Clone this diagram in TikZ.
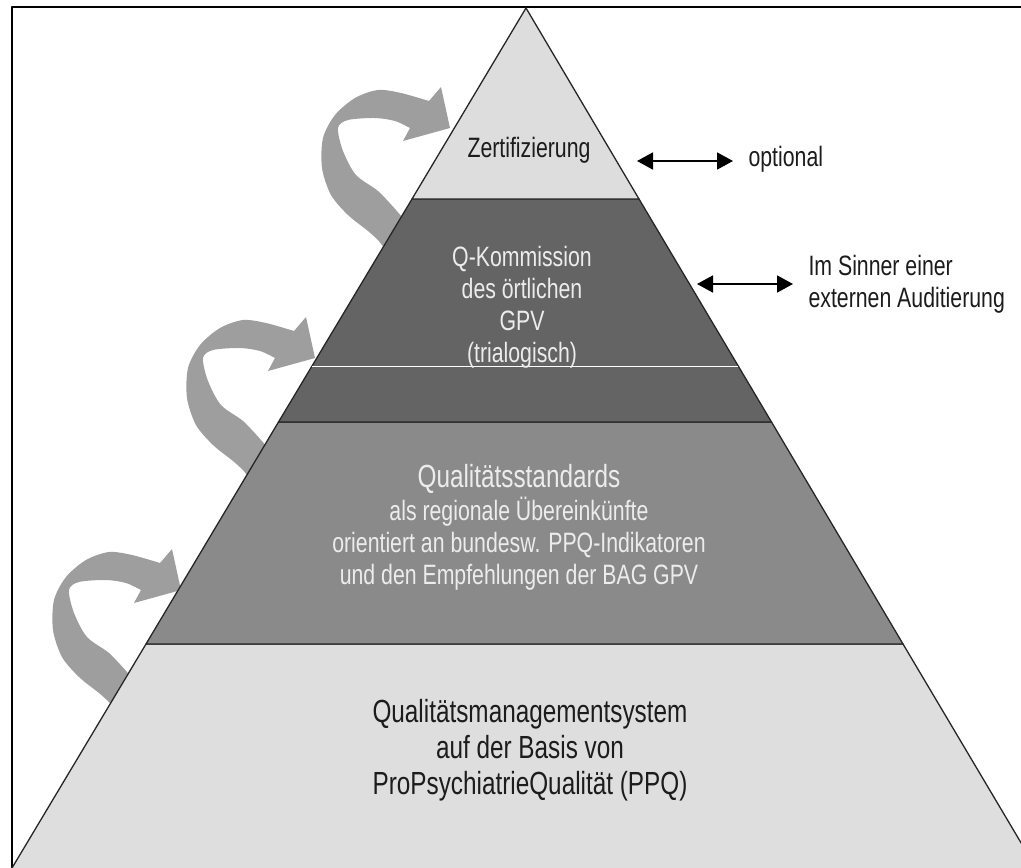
\documentclass[tikz,border=0pt]{standalone}
\usepackage{fontspec}
\setmainfont{Liberation Sans}[FakeStretch=0.76]
\usetikzlibrary{arrows.meta}

\definecolor{tipfill}{RGB}{221,221,221}
\definecolor{commfill}{RGB}{100,100,100}
\definecolor{stdfill}{RGB}{138,138,138}
\definecolor{basefill}{RGB}{222,222,222}
\definecolor{turngray}{RGB}{158,158,158}
\definecolor{lighttext}{RGB}{236,236,236}
\definecolor{darktext}{RGB}{28,28,28}

\tikzset{
  layer/.style={line width=1.3pt, draw=black!85},
  darklabel/.style={text=darktext, align=center, font=\fontsize{28}{32}\selectfont},
  lightlabel/.style={text=lighttext, align=center, font=\fontsize{28}{32}\selectfont},
  sidelabel/.style={text=darktext, anchor=west, align=left, font=\fontsize{28}{32}\selectfont},
  dblarrow/.style={line width=1.8pt, {Triangle[length=16pt,width=17pt]}-{Triangle[length=16pt,width=17pt]}}
}

% curved grey arrow, tip at #1
\newcommand{\turnarrow}[1]{%
  \fill[turngray, shift={#1}] (0,0) -- (-9,-41)
    -- plot[smooth] coordinates {(-21,-27) (-49,-35) (-72,-38) (-95,-30) (-115,-13) (-127,10) (-128,40) (-119,67) (-102,87) (-82,103) (-72,112)}
    -- (-50,140) -- (-30,110)
    -- plot[smooth] coordinates {(-54,82) (-72,63) (-94,47) (-107,23) (-112,0) (-102,-8) (-75,-10) (-55,-7) (-40,0)}
    -- (-47,13) -- cycle;}

\begin{document}
\begin{tikzpicture}[x=1pt, y=-1pt, line join=round]
  \useasboundingbox (0,0) rectangle (1021,868);
  \clip (0,0) rectangle (1021,868);

  % frame
  \draw[line width=2pt] (11.5,868) -- (11.5,6.5) -- (1021,6.5);

  % grey arrows behind the pyramid
  \turnarrow{(450,128)}
  \turnarrow{(315,358)}
  \turnarrow{(181,590)}

  % pyramid layers
  \filldraw[layer, fill=basefill] (12,868) -- (146,644) -- (903,644) -- (1036,868);
  \filldraw[layer, fill=stdfill] (146,644) -- (278.5,422) -- (771.5,422) -- (903,644) -- cycle;
  \filldraw[layer, fill=commfill] (278.5,422) -- (412,199) -- (639,199) -- (771.5,422) -- cycle;
  \draw[white, line width=0.6pt] (312,366) -- (738,366);
  \filldraw[layer, fill=tipfill] (412,199) -- (526,8) -- (639,199) -- cycle;

  \node[darklabel] (zert) at (529,150) {Zertifizierung};
  \node[lightlabel] (komm) at (522,307) {Q-Kommission\\des örtlichen\\GPV\\(trialogisch)};
  \node[lightlabel] (std) at (519,527)
    {{\fontsize{32}{35}\selectfont Qualitätsstandards}\\[1pt]
     als regionale Übereinkünfte\\
     orientiert an bundesw. PPQ-Indikatoren\\
     und den Empfehlungen der BAG GPV};
  \node[darklabel, font=\fontsize{32}{36}\selectfont] (qms) at (530,750)
    {Qualitätsmanagementsystem\\auf der Basis von\\ProPsychiatrieQualität (PPQ)};

  % side notes
  \node[sidelabel] (opt) at (745,159) {optional};
  \node[sidelabel] (audit) at (805,284) {Im Sinner einer\\externen Auditierung};
  \coordinate (optend) at (637,161);
  \coordinate (auditend) at (697,284);
  \draw[dblarrow] (optend) -- ([xshift=-12pt]opt.west |- optend);
  \draw[dblarrow] (auditend) -- ([xshift=-12pt]audit.west);
\end{tikzpicture}
\end{document}
